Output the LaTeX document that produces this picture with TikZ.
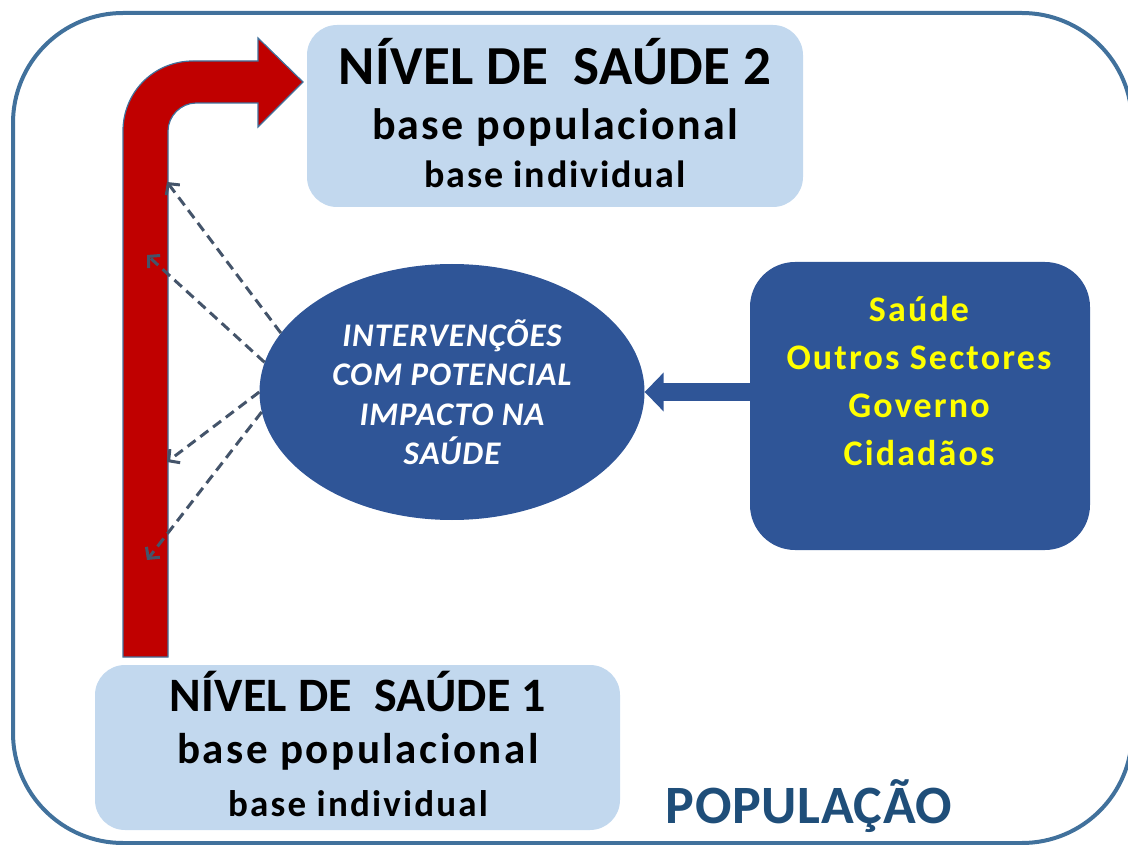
\documentclass[tikz,border=0pt]{standalone}
\usepackage{fontspec}
\setmainfont{Carlito}
\usetikzlibrary{arrows.meta,shapes.geometric}

\definecolor{boxblue}{HTML}{C2D8EE}
\definecolor{darkblue}{HTML}{2F5597}
\definecolor{frameblue}{HTML}{41719C}
\definecolor{arrowred}{HTML}{C00000}
\definecolor{dashgray}{HTML}{44546A}
\definecolor{popblue}{HTML}{1F4E79}
\definecolor{textyellow}{HTML}{FFFF00}

% tamanho e espacamento entre letras
\newcommand{\txtsz}[3]{\fontsize{#1}{#2}\selectfont\addfontfeatures{LetterSpace=#3}}

\begin{document}
\begin{tikzpicture}[x=1pt,y=-1pt,
  levelbox/.style={fill=boxblue,rounded corners=30pt,inner sep=0pt},
  linetxt/.style={anchor=base,inner sep=0pt,font=\bfseries},
  dasharrow/.style={dashgray,line width=3pt,dash pattern=on 10pt off 6pt,-{Straight Barb[length=8pt,width=17pt]}}]
\useasboundingbox (0,0) rectangle (1128,845);

\draw[frameblue,line width=4pt,rounded corners=110pt] (13,13) rectangle (1132,843);

\node[levelbox,minimum width=496pt,minimum height=182pt] (saude2) at (555,116) {};
\node[levelbox,minimum width=525pt,minimum height=165pt] (saude1) at (357.5,747.5) {};

\foreach \yy/\sz/\ls/\txt [count=\i] in {85/55/0.6/{NÍVEL DE\ \ SAÚDE 2},140/44/5.3/{base populacional},188/38/4.7/{base individual}}{%
\node[linetxt] (saude2l\i) at (555,\yy) {\txtsz{\sz}{\sz}{\ls}\txt};
}
\foreach \yy/\sz/\ls/\txt [count=\i] in {711.7/48/0.5/{NÍVEL DE\ \ SAÚDE 1},763.3/43/5.9/{base populacional},816.7/37/5.9/{base individual}}{%
\node[linetxt] (saude1l\i) at (358,\yy) {\txtsz{\sz}{\sz}{\ls}\txt};
}

\node[ellipse,fill=darkblue,minimum width=385pt,minimum height=256pt,inner sep=0pt,
  text=white,align=center,font=\bfseries\itshape\txtsz{33}{39.5}{3.1}] (interv) at (452,392)
  {INTERVENÇÕES\\COM POTENCIAL\\IMPACTO NA\\SAÚDE};

\node[fill=darkblue,rounded corners=45pt,minimum width=340pt,minimum height=288pt] (actores) at (920,406) {};
\node[text=textyellow,align=center,font=\bfseries\txtsz{36}{48}{6}] (actorestxt) at (919,381)
  {Saúde\\Outros Sectores\\Governo\\Cidadãos};

\node[linetxt,text=popblue] (pop) at (809,823) {\txtsz{54}{54}{1.2}POPULAÇÃO};

% seta vermelha
\filldraw[fill=arrowred,draw=frameblue,line width=1.2pt] (123,657) -- (123,131)
  .. controls (123,92) and (154,61) .. (193,61) -- (258,61) -- (258,38) -- (303,82)
  -- (258,127) -- (258,103) -- (196,103) .. controls (181,103) and (168,116) .. (168,131)
  -- (168,657) -- cycle;

\draw[darkblue,line width=18pt,-{Triangle[length=19pt,width=38pt]}] (actores.west |- interv.east) -- (interv.east);

\coordinate (t1) at (167,182);
\coordinate (t2) at (147,255);
\coordinate (t3) at (167,462);
\coordinate (t4) at (147,560);
\foreach \a/\t in {161/t1,171/t2,180/t3,186/t4}{%
\draw[dasharrow] (interv.\a) -- (\t);
}

\end{tikzpicture}
\end{document}
